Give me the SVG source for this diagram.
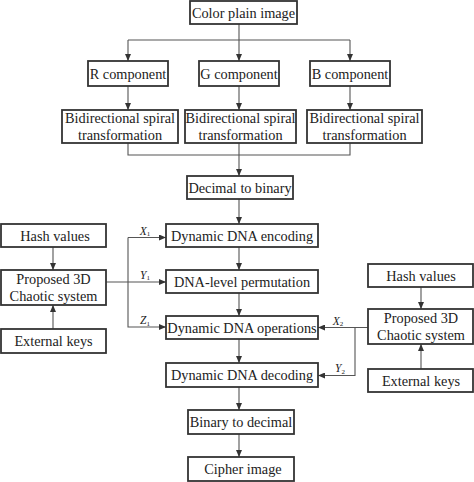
<svg xmlns="http://www.w3.org/2000/svg" width="474" height="482" viewBox="0 0 474 482" font-family="'Liberation Serif', 'Times New Roman', serif">
<defs>
<marker id="ah" viewBox="0 0 7 6" refX="7" refY="3" markerWidth="7" markerHeight="6" markerUnits="userSpaceOnUse" orient="auto">
<path d="M0 0 L7 3 L0 6 Z" fill="#333"/>
</marker>
<style>
text{font-family:'Liberation Serif','Times New Roman',serif}
.box{fill:#fff;stroke:#333;stroke-width:1.8}
.t{font-size:14.3px;fill:#222;text-anchor:middle;dominant-baseline:central}
.c{fill:none;stroke:#555;stroke-width:1.1}
.a{marker-end:url(#ah)}
.lb{font-size:11.5px;font-style:italic;fill:#222;text-anchor:middle}
.sb{font-style:normal;font-size:7px}
</style>
</defs>
<rect width="474" height="482" fill="#fff"/>
<g id="connectors">
<path class="c a" d="M239 24 V61"/>
<path class="c" d="M128 40 H350"/>
<path class="c a" d="M128 40 V61"/>
<path class="c a" d="M350 40 V61"/>
<path class="c a" d="M128 86 V110"/>
<path class="c a" d="M239 86 V110"/>
<path class="c a" d="M350 86 V110"/>
<path class="c" d="M128 143 V155 H350 V143"/>
<path class="c a" d="M239 143 V176"/>
<path class="c a" d="M239 199 V224"/>
<path class="c a" d="M239 247 V270"/>
<path class="c a" d="M239 293 V316"/>
<path class="c a" d="M239 339 V363"/>
<path class="c a" d="M239 387 V410"/>
<path class="c a" d="M239 434 V457"/>
<path class="c a" d="M53 247 V270"/>
<path class="c a" d="M53 329 V305"/>
<path class="c a" d="M106 282 H166"/>
<path class="c a" d="M128 237.5 H166"/>
<path class="c a" d="M128 237.5 V327 H166"/>
<path class="c a" d="M421 287 V309"/>
<path class="c a" d="M421 369 V344"/>
<path class="c a" d="M368 327.5 H318"/>
<path class="c a" d="M355 327.5 V375.5 H318"/>
<text class="lb" x="145" y="234.5">X<tspan class="sb" dy="1.5">1</tspan></text>
<text class="lb" x="145" y="278.5">Y<tspan class="sb" dy="1.5">1</tspan></text>
<text class="lb" x="145" y="324">Z<tspan class="sb" dy="1.5">1</tspan></text>
<text class="lb" x="338" y="324.5">X<tspan class="sb" dy="1.5">2</tspan></text>
<text class="lb" x="340" y="372">Y<tspan class="sb" dy="1.5">2</tspan></text>
</g>
<g id="color-plain-image"><rect class="box" x="190" y="1" width="107" height="23"/><text class="t" x="243.5" y="13">Color plain image</text></g>
<g id="r-component"><rect class="box" x="88" y="61" width="80" height="25"/><text class="t" x="128" y="73.5">R component</text></g>
<g id="g-component"><rect class="box" x="199" y="61" width="80" height="25"/><text class="t" x="239" y="73.5">G component</text></g>
<g id="b-component"><rect class="box" x="310" y="61" width="80" height="25"/><text class="t" x="350" y="73.5">B component</text></g>
<g id="bst-r"><rect class="box" x="62" y="110" width="116" height="33"/><text class="t" x="120" y="118">Bidirectional spiral</text><text class="t" x="120" y="135">transformation</text></g>
<g id="bst-g"><rect class="box" x="185" y="110" width="111" height="33"/><text class="t" x="240.5" y="118">Bidirectional spiral</text><text class="t" x="240.5" y="135">transformation</text></g>
<g id="bst-b"><rect class="box" x="307" y="110" width="115" height="33"/><text class="t" x="364.5" y="118">Bidirectional spiral</text><text class="t" x="364.5" y="135">transformation</text></g>
<g id="decimal-to-binary"><rect class="box" x="187" y="176" width="106" height="23"/><text class="t" x="240" y="187.5">Decimal to binary</text></g>
<g id="dna-encoding"><rect class="box" x="166" y="224" width="152" height="23"/><text class="t" x="242" y="235.5">Dynamic DNA encoding</text></g>
<g id="dna-permutation"><rect class="box" x="166" y="270" width="152" height="23"/><text class="t" x="242" y="281.5">DNA-level permutation</text></g>
<g id="dna-operations"><rect class="box" x="166" y="316" width="152" height="23"/><text class="t" x="242" y="327.5">Dynamic DNA operations</text></g>
<g id="dna-decoding"><rect class="box" x="166" y="363" width="152" height="24"/><text class="t" x="242" y="375">Dynamic DNA decoding</text></g>
<g id="binary-to-decimal"><rect class="box" x="188" y="410" width="106" height="24"/><text class="t" x="241" y="422">Binary to decimal</text></g>
<g id="cipher-image"><rect class="box" x="188" y="457" width="106" height="24"/><text class="t" x="243" y="469">Cipher image</text></g>
<g id="hash-left"><rect class="box" x="1" y="224" width="105" height="23"/><text class="t" x="55" y="235.5">Hash values</text></g>
<g id="chaotic-left"><rect class="box" x="1" y="270" width="105" height="35"/><text class="t" x="53.5" y="278.5">Proposed 3D</text><text class="t" x="53.5" y="295.5">Chaotic system</text></g>
<g id="keys-left"><rect class="box" x="1" y="329" width="105" height="24"/><text class="t" x="53.5" y="341">External keys</text></g>
<g id="hash-right"><rect class="box" x="368" y="264" width="105" height="23"/><text class="t" x="421" y="275.5">Hash values</text></g>
<g id="chaotic-right"><rect class="box" x="368" y="309" width="105" height="35"/><text class="t" x="421" y="317.5">Proposed 3D</text><text class="t" x="421" y="334.5">Chaotic system</text></g>
<g id="keys-right"><rect class="box" x="368" y="369" width="105" height="23"/><text class="t" x="421" y="380.5">External keys</text></g>
</svg>
